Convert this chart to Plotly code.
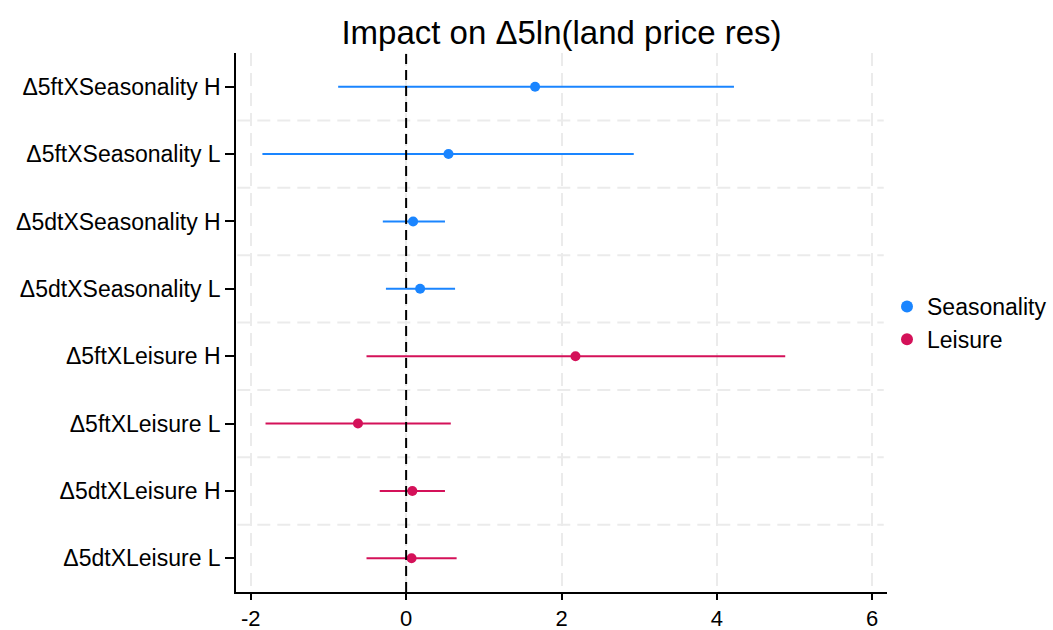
import plotly.graph_objects as go

# Coefficient estimates with 95% confidence bounds, listed top to bottom
terms = ["Δ5ftXSeasonality H", "Δ5ftXSeasonality L", "Δ5dtXSeasonality H", "Δ5dtXSeasonality L",
         "Δ5ftXLeisure H", "Δ5ftXLeisure L", "Δ5dtXLeisure H", "Δ5dtXLeisure L"]

seas_terms = terms[:4]
seas_coef = [1.66, 0.545, 0.09, 0.18]
seas_lo = [-0.875, -1.85, -0.30, -0.26]
seas_hi = [4.22, 2.93, 0.50, 0.63]

leis_terms = terms[4:]
leis_coef = [2.18, -0.62, 0.08, 0.07]
leis_lo = [-0.51, -1.81, -0.34, -0.51]
leis_hi = [4.88, 0.575, 0.50, 0.65]

x_ticks = [-2, 0, 2, 4, 6]

BLUE = "#1A85FF"
PINK = "#D41159"
GRID = "#ebebeb"
FONT = "Liberation Sans, Arial, sans-serif"


def coef_trace(name, ys, coef, lo, hi, color):
    return go.Scatter(
        x=coef, y=ys, mode="markers", name=name,
        marker=dict(color=color, size=10),
        error_x=dict(type="data", symmetric=False,
                     array=[h - c for h, c in zip(hi, coef)],
                     arrayminus=[c - l for c, l in zip(coef, lo)],
                     color=color, thickness=2, width=0),
    )


fig = go.Figure()
fig.add_trace(coef_trace("Seasonality", seas_terms, seas_coef, seas_lo, seas_hi, BLUE))
fig.add_trace(coef_trace("Leisure", leis_terms, leis_coef, leis_lo, leis_hi, PINK))

# dashed separators between coefficient rows
for k in range(len(terms) - 1):
    fig.add_shape(type="line", xref="paper", yref="y", x0=0.002, x1=0.995,
                  y0=k + 0.5, y1=k + 0.5, layer="below",
                  line=dict(color=GRID, width=2, dash="13px,7px"))

# reference line at zero
fig.add_shape(type="line", xref="x", yref="paper", x0=0, x1=0, y0=0, y1=1,
              line=dict(color="black", width=2, dash="10px,6px"))

fig.update_layout(
    width=1053, height=630,
    margin=dict(l=236, r=166, t=53, b=38, autoexpand=False),
    paper_bgcolor="white", plot_bgcolor="white",
    font=dict(family=FONT, size=23, color="black"),
    title=dict(text="Impact on Δ5ln(land price res)", x=0.5, xref="paper", xanchor="center",
               y=1 - 32 / 630, yref="container", yanchor="middle",
               font=dict(family=FONT, size=33, color="black")),
    showlegend=True,
    legend=dict(xref="container", x=887 / 1053, xanchor="left",
                yref="container", y=1 - 323 / 630, yanchor="middle",
                font=dict(family=FONT, size=23, color="black"),
                itemsizing="constant", tracegroupgap=0,
                bgcolor="rgba(0,0,0,0)"),
    xaxis=dict(range=[-2.19, 6.19], tickmode="array", tickvals=x_ticks,
               ticktext=[str(v) for v in x_ticks], automargin=False,
               showgrid=True, gridcolor=GRID, gridwidth=2, griddash="13px,7px",
               zeroline=False, showline=True, linecolor="black", linewidth=1.5,
               ticks="outside", ticklen=6, tickwidth=1.5, tickcolor="black",
               tickfont=dict(family=FONT, size=22, color="black")),
    yaxis=dict(type="category", categoryorder="array", categoryarray=terms[::-1],
               range=[-0.5, 7.5], showgrid=False, zeroline=False, automargin=False,
               showline=True, linecolor="black", linewidth=1.5,
               ticks="outside", ticklen=9, tickwidth=1.5, tickcolor="black",
               tickfont=dict(family=FONT, size=23, color="black")),
)

fig.write_html("out.html")
